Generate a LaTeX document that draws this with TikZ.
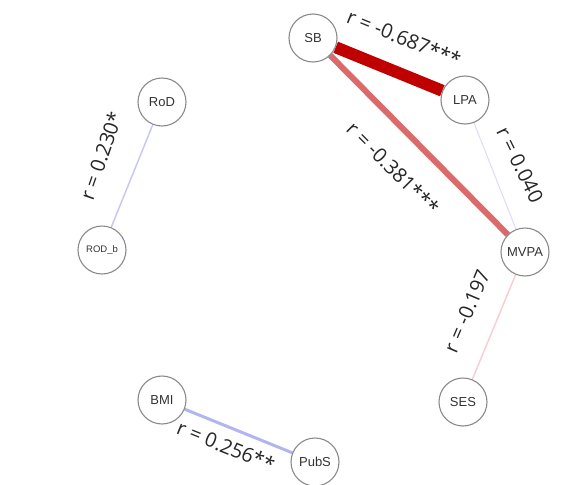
\documentclass[tikz,border=0pt]{standalone}
\usepackage{fontspec}
\setmainfont{Liberation Sans}
\newfontfamily\edgefont{Open Sans}
\usetikzlibrary{backgrounds}
\definecolor{nodegray}{HTML}{8A8A8A}
\definecolor{darkred}{HTML}{C00000}
\definecolor{midred}{HTML}{DB6A6A}
\definecolor{palepink}{HTML}{F7CFCF}
\definecolor{palelav}{HTML}{DCDCF8}
\definecolor{lav}{HTML}{C8C8F4}
\definecolor{midlav}{HTML}{B4B4F0}
\begin{document}
\begin{tikzpicture}[x=1pt,y=-1pt,
  vnode/.style={circle,draw=nodegray,line width=1.1pt,fill=white,minimum size=48pt,inner sep=0pt,font=\fontsize{13}{13}\selectfont,text=black!80},
  elabel/.style={font=\edgefont\fontsize{20}{20}\selectfont,text=black!85,inner sep=0pt}]
\useasboundingbox (0,0) rectangle (582,485);
% nodes
\node[vnode] (SB) at (313,38) {SB};
\node[vnode] (LPA) at (465,100) {LPA};
\node[vnode] (MVPA) at (525,252) {MVPA};
\node[vnode] (SES) at (463,402) {SES};
\node[vnode] (PubS) at (315,462) {PubS};
\node[vnode] (BMI) at (162,400) {BMI};
\node[vnode,font=\fontsize{9.5}{9.5}\selectfont] (RODb) at (102,250) {ROD\_b};
\node[vnode] (RoD) at (162,102) {RoD};
% edges
\begin{scope}[on background layer]
\draw[darkred,line width=12pt] (SB) -- (LPA);
\draw[midred,line width=6pt] (SB) -- (MVPA);
\draw[palelav,line width=1pt] (LPA) -- (MVPA);
\draw[palepink,line width=1.5pt] (MVPA) -- (SES);
\draw[lav,line width=1.5pt] (RoD) -- (RODb);
\draw[midlav,line width=3pt] (BMI) -- (PubS);
\end{scope}
% labels
\node[elabel,rotate=-22] (l1) at (404,38) {r = -0.687***};
\node[elabel,rotate=-45] (l2) at (393,168) {r = -0.381***};
\node[elabel,rotate=-64] (l3) at (520,165) {r = 0.040};
\node[elabel,rotate=67] (l4) at (467,311) {r = -0.197};
\node[elabel,rotate=71] (l5) at (101,156) {r = 0.230*};
\node[elabel,rotate=-22] (l6) at (226,446) {r = 0.256**};
\end{tikzpicture}
\end{document}
